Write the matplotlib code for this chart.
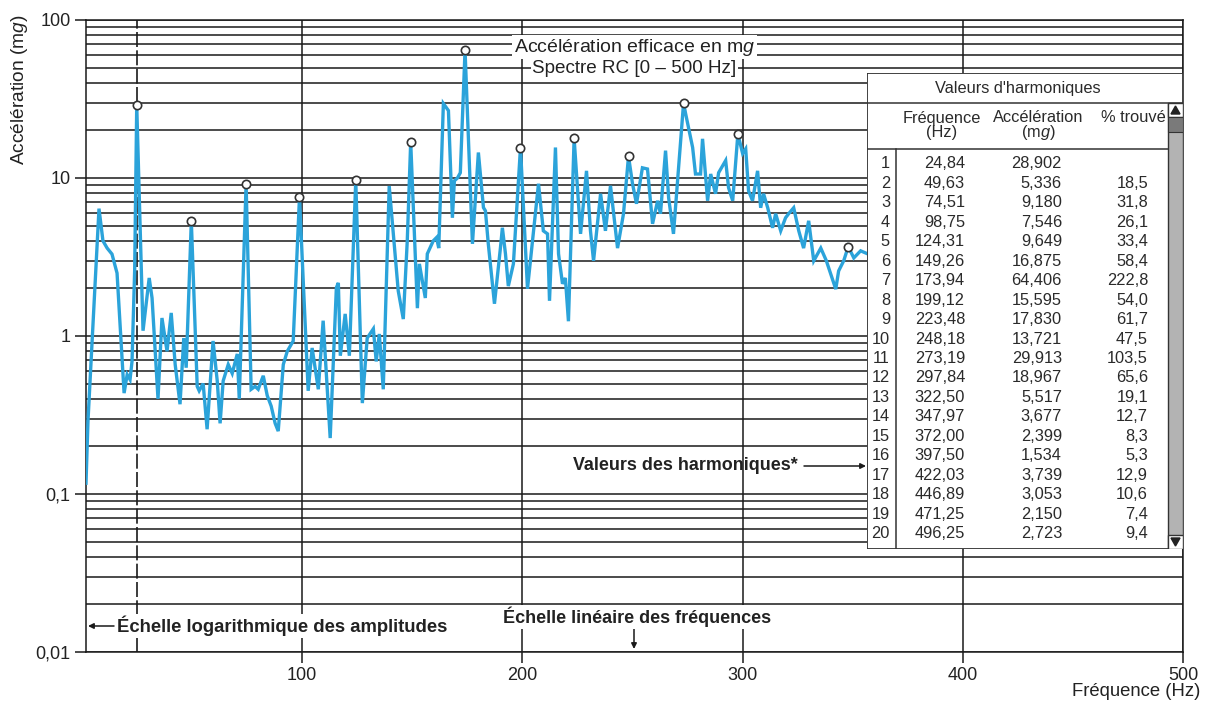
import numpy as np
import matplotlib.pyplot as plt
from matplotlib.ticker import FixedLocator, LogLocator, NullFormatter
from matplotlib.patches import Rectangle, Polygon

plt.rcParams['font.family'] = ['Liberation Sans', 'DejaVu Sans']
plt.rcParams['mathtext.fontset'] = 'custom'
plt.rcParams['mathtext.rm'] = 'Liberation Sans'
plt.rcParams['mathtext.it'] = 'Liberation Sans:italic'

#%% spectrum (Hz, mg)
freq = [1.8, 2.7, 5.0, 7.7, 9.5, 11.4, 13.6, 15.9, 19.1, 20.5, 21.8, 22.7, 23.9, 24.84,
        27.7, 30.5, 31.8, 34.5, 36.3, 38.6, 40.5, 42.3, 44.5, 46.2, 47.3, 49.63,
        52.3, 53.2, 55.0, 56.8, 59.5, 61.4, 62.7, 64.1, 66.4, 68.2, 70.5, 71.4, 74.51,
        76.8, 78.6, 80.0, 82.3, 84.1, 85.9, 87.7, 89.1, 91.4, 93.2, 95.9, 98.75,
        102.7, 104.5, 107.3, 109.5, 112.7, 115.5, 116.4, 117.3, 119.5, 121.4, 124.31,
        127.3, 129.5, 132.3, 133.6, 135.0, 136.8, 139.5, 143.6, 145.9, 147.7, 149.26,
        152.3, 153.2, 155.9, 156.8, 159.5, 161.0, 162.0, 164.1, 166.4, 168.2, 169.1, 170.5, 171.8, 173.94,
        177.3, 180.0, 182.3, 183.2, 184.5, 187.3, 190.0, 190.9, 192.3, 193.6, 195.9, 199.12,
        202.3, 207.3, 209.5, 211.4, 212.3, 215.0, 216.4, 218.2, 219.5, 220.9, 223.48,
        226.4, 229.1, 230.9, 232.3, 235.5, 237.7, 240.0, 243.2, 245.9, 248.18,
        250.0, 251.8, 254.5, 256.8, 259.1, 261.4, 262.7, 265.0, 266.4, 268.6, 273.19,
        274.1, 277.3, 278.6, 280.9, 281.8, 284.1, 285.5, 287.7, 289.1, 292.3, 293.6, 295.5, 297.84,
        300.0, 301.4, 302.7, 304.5, 306.8, 308.2, 309.5, 311.4, 313.6, 315.0, 317.3, 319.5, 320.9,
        323.2, 325.5, 327.7, 330.0, 332.3, 335.5, 338.0, 342.3, 343.6, 345.9, 347.97,
        350.5, 353.6, 356.8, 359.0]
accel = [0.117, 0.29, 1.19, 6.4, 4.0, 3.6, 3.3, 2.5, 0.435, 0.57, 0.53, 0.69, 2.6, 28.9,
         1.08, 2.33, 1.74, 0.40, 1.30, 0.80, 1.40, 0.66, 0.37, 0.97, 0.63, 5.336,
         0.48, 0.45, 0.50, 0.257, 0.93, 0.52, 0.28, 0.52, 0.66, 0.58, 0.77, 0.40, 9.18,
         0.46, 0.48, 0.46, 0.56, 0.42, 0.36, 0.28, 0.25, 0.66, 0.80, 0.93, 7.546,
         0.45, 0.84, 0.46, 1.25, 0.226, 2.02, 2.17, 0.75, 1.38, 0.75, 9.649,
         0.376, 0.97, 1.11, 0.69, 1.03, 0.46, 8.9, 1.93, 1.28, 4.0, 16.875,
         1.5, 2.86, 1.74, 3.31, 4.0, 4.2, 3.6, 29.6, 26.7, 5.6, 9.6, 10.0, 10.8, 64.406,
         3.83, 14.5, 6.5, 6.2, 3.83, 1.6, 3.6, 4.84, 3.31, 2.07, 2.86, 15.595,
         1.99, 9.2, 4.63, 4.43, 1.67, 15.6, 3.31, 2.14, 2.33, 1.24, 17.83,
         4.43, 11.1, 4.63, 2.99, 7.95, 4.63, 8.93, 3.6, 5.94, 13.721,
         9.2, 6.87, 11.6, 11.4, 5.13, 7.18, 5.94, 14.9, 7.5, 4.43, 29.913,
         25.6, 15.6, 10.6, 10.6, 17.7, 7.18, 10.6, 7.95, 10.8, 12.9, 8.7, 7.18, 18.967,
         14.3, 15.3, 8.3, 7.18, 11.1, 6.48, 7.95, 6.48, 4.84, 5.94, 4.63, 5.6, 5.94,
         6.48, 4.63, 3.6, 5.36, 2.99, 3.6, 3.0, 1.98, 2.58, 2.99, 3.677,
         3.12, 3.46, 3.31, 3.5]

#%% table of harmonics
harm_no = list(range(1, 21))
harm_freq = [24.84, 49.63, 74.51, 98.75, 124.31, 149.26, 173.94, 199.12, 223.48, 248.18,
             273.19, 297.84, 322.50, 347.97, 372.00, 397.50, 422.03, 446.89, 471.25, 496.25]
harm_acc = [28.902, 5.336, 9.180, 7.546, 9.649, 16.875, 64.406, 15.595, 17.830, 13.721,
            29.913, 18.967, 5.517, 3.677, 2.399, 1.534, 3.739, 3.053, 2.150, 2.723]
harm_pct = [None, 18.5, 31.8, 26.1, 33.4, 58.4, 222.8, 54.0, 61.7, 47.5,
            103.5, 65.6, 19.1, 12.7, 8.3, 5.3, 12.9, 10.6, 7.4, 9.4]
marked = [1, 2, 3, 4, 5, 6, 7, 8, 9, 10, 11, 12, 14]

y_ticks = [0.01, 0.1, 1, 10, 100]
y_labels = ['0,01', '0,1', '1', '10', '100']
x_ticks = [100, 200, 300, 400, 500]


def fr(v, n):
    return ('%.*f' % (n, v)).replace('.', ',')


W, H = 1207, 705
fig = plt.figure(figsize=(W / 100, H / 100), dpi=100)
ax = fig.add_axes([86 / W, 1 - 652 / H, (1183 - 86) / W, (652 - 20) / H])

ax.set_yscale('log')
ax.set_ylim(0.01, 100)
ax.set_xlim(1.8, 500)

ax.yaxis.set_major_locator(FixedLocator(y_ticks))
ax.set_yticklabels(y_labels)
ax.yaxis.set_minor_locator(LogLocator(base=10, subs=np.arange(2, 10)))
ax.yaxis.set_minor_formatter(NullFormatter())
ax.set_xticks(x_ticks)
ax.set_xticklabels([str(t) for t in x_ticks])

ax.grid(True, which='both', axis='y', color='#1a1a1a', lw=1.1)
ax.grid(True, which='major', axis='x', color='#1a1a1a', lw=1.1)
ax.tick_params(which='major', direction='out', length=8, width=1.1, color='#1a1a1a',
               labelsize=13, labelcolor='#222222', pad=3)
ax.tick_params(which='minor', length=0)
for s in ax.spines.values():
    s.set_color('#1a1a1a')
    s.set_linewidth(1.1)

ax.axvline(harm_freq[0], color='#1a1a1a', lw=1.2, ls=(0, (9, 2)), zorder=2)

ax.plot(freq, accel, color='#2ba3da', lw=2.4, zorder=3, solid_joinstyle='miter')
hf = [harm_freq[i - 1] for i in marked]
ha = [harm_acc[i - 1] for i in marked]
ax.plot(hf, ha, 'o', ms=6, mfc='white', mec='#333333', mew=1.2, zorder=4)

# title box
box = dict(facecolor='white', edgecolor='none', pad=1.0)
ax.text(0.500, 0.957, r'Accélération efficace en m$\it{g}$', transform=ax.transAxes,
        ha='center', va='center', fontsize=14, color='#222222', bbox=box, zorder=5)
ax.text(0.500, 0.924, 'Spectre RC [0 – 500 Hz]', transform=ax.transAxes,
        ha='center', va='center', fontsize=13.6, color='#222222', bbox=box, zorder=5)


def fx(x):
    return x / W


def fy(y):
    return 1 - y / H


bold = dict(family=['Liberation Sans Narrow', 'Liberation Sans'], weight='bold',
            color='#222222')
fig.text(fx(117), fy(626), 'Échelle logarithmique des amplitudes', ha='left', va='center',
         fontsize=13.3, bbox=dict(facecolor='white', edgecolor='none', pad=1.5), zorder=5, **bold)
fig.text(fx(503), fy(617), 'Échelle linéaire des fréquences', ha='left', va='center',
         fontsize=13, bbox=dict(facecolor='white', edgecolor='none', pad=1.5), zorder=5, **bold)
fig.text(fx(798), fy(466), 'Valeurs des harmoniques*', ha='right', va='center',
         fontsize=12.9, zorder=5, **bold)

arrow = dict(arrowstyle='-|>', color='#1a1a1a', lw=1.1, mutation_scale=8, shrinkA=0, shrinkB=0)
ax.annotate('', xy=(fx(88), fy(626)), xytext=(fx(114), fy(626)),
            xycoords='figure fraction', textcoords='figure fraction', arrowprops=arrow)
ax.annotate('', xy=(fx(634), fy(649)), xytext=(fx(634), fy(628)),
            xycoords='figure fraction', textcoords='figure fraction', arrowprops=arrow)
ax.annotate('', xy=(fx(866), fy(466)), xytext=(fx(804), fy(466)),
            xycoords='figure fraction', textcoords='figure fraction', arrowprops=arrow)

fig.text(fx(20), fy(90), r'Accélération (m$\it{g}$)', rotation=90, ha='center', va='center',
         fontsize=13.8, color='#222222')
fig.text(fx(1200), fy(692), 'Fréquence (Hz)', ha='right', va='center', fontsize=13.3,
         color='#222222')

#%% table of harmonic values (drawn in pixel units)
tab = fig.add_axes([867 / W, 1 - 549 / H, (1183 - 867) / W, (549 - 73) / H])
tab.set_xlim(867, 1183)
tab.set_ylim(549, 73)
tab.axis('off')
ln = dict(color='#333333', lw=1.1)
tab.add_patch(Rectangle((867, 73), 316, 476, facecolor='white', edgecolor='#333333', lw=1.3))
tab.plot([867, 1183], [103, 103], **ln)
tab.plot([867, 1168], [149, 149], **ln)
tab.plot([896, 896], [149, 549], **ln)
# scrollbar
tab.add_patch(Rectangle((1168, 103), 15, 446, facecolor='#b3b3b3', edgecolor='#333333', lw=1.0))
tab.add_patch(Rectangle((1168, 103), 15, 14, facecolor='white', edgecolor='#333333', lw=1.0))
tab.add_patch(Rectangle((1168, 117), 15, 15, facecolor='#7a7a7a', edgecolor='#333333', lw=0.8))
tab.add_patch(Rectangle((1168, 535), 15, 14, facecolor='white', edgecolor='#333333', lw=1.0))
tab.add_patch(Polygon([(1171, 114), (1180, 114), (1175.5, 106)], color='#222222'))
tab.add_patch(Polygon([(1171, 538), (1180, 538), (1175.5, 546)], color='#222222'))

tk = dict(fontsize=11.8, color='#2a2a2a', va='center')
tab.text(1018, 88, "Valeurs d'harmoniques", ha='center', **tk)
tab.text(942, 118, 'Fréquence', ha='center', **tk)
tab.text(942, 133, '(Hz)', ha='center', **tk)
tab.text(1038, 118, 'Accélération', ha='center', **tk)
tab.text(1038, 133, r'(m$\it{g}$)', ha='center', **tk)
tab.text(1133, 118, '% trouvé', ha='center', **tk)
for k in range(len(harm_no)):
    yy = 164 + k * 19.45
    tab.text(890, yy, str(harm_no[k]), ha='right', **tk)
    tab.text(965, yy, fr(harm_freq[k], 2), ha='right', **tk)
    tab.text(1062, yy, fr(harm_acc[k], 3), ha='right', **tk)
    if harm_pct[k] is not None:
        tab.text(1148, yy, fr(harm_pct[k], 1), ha='right', **tk)

plt.savefig('out.png', dpi=100)
